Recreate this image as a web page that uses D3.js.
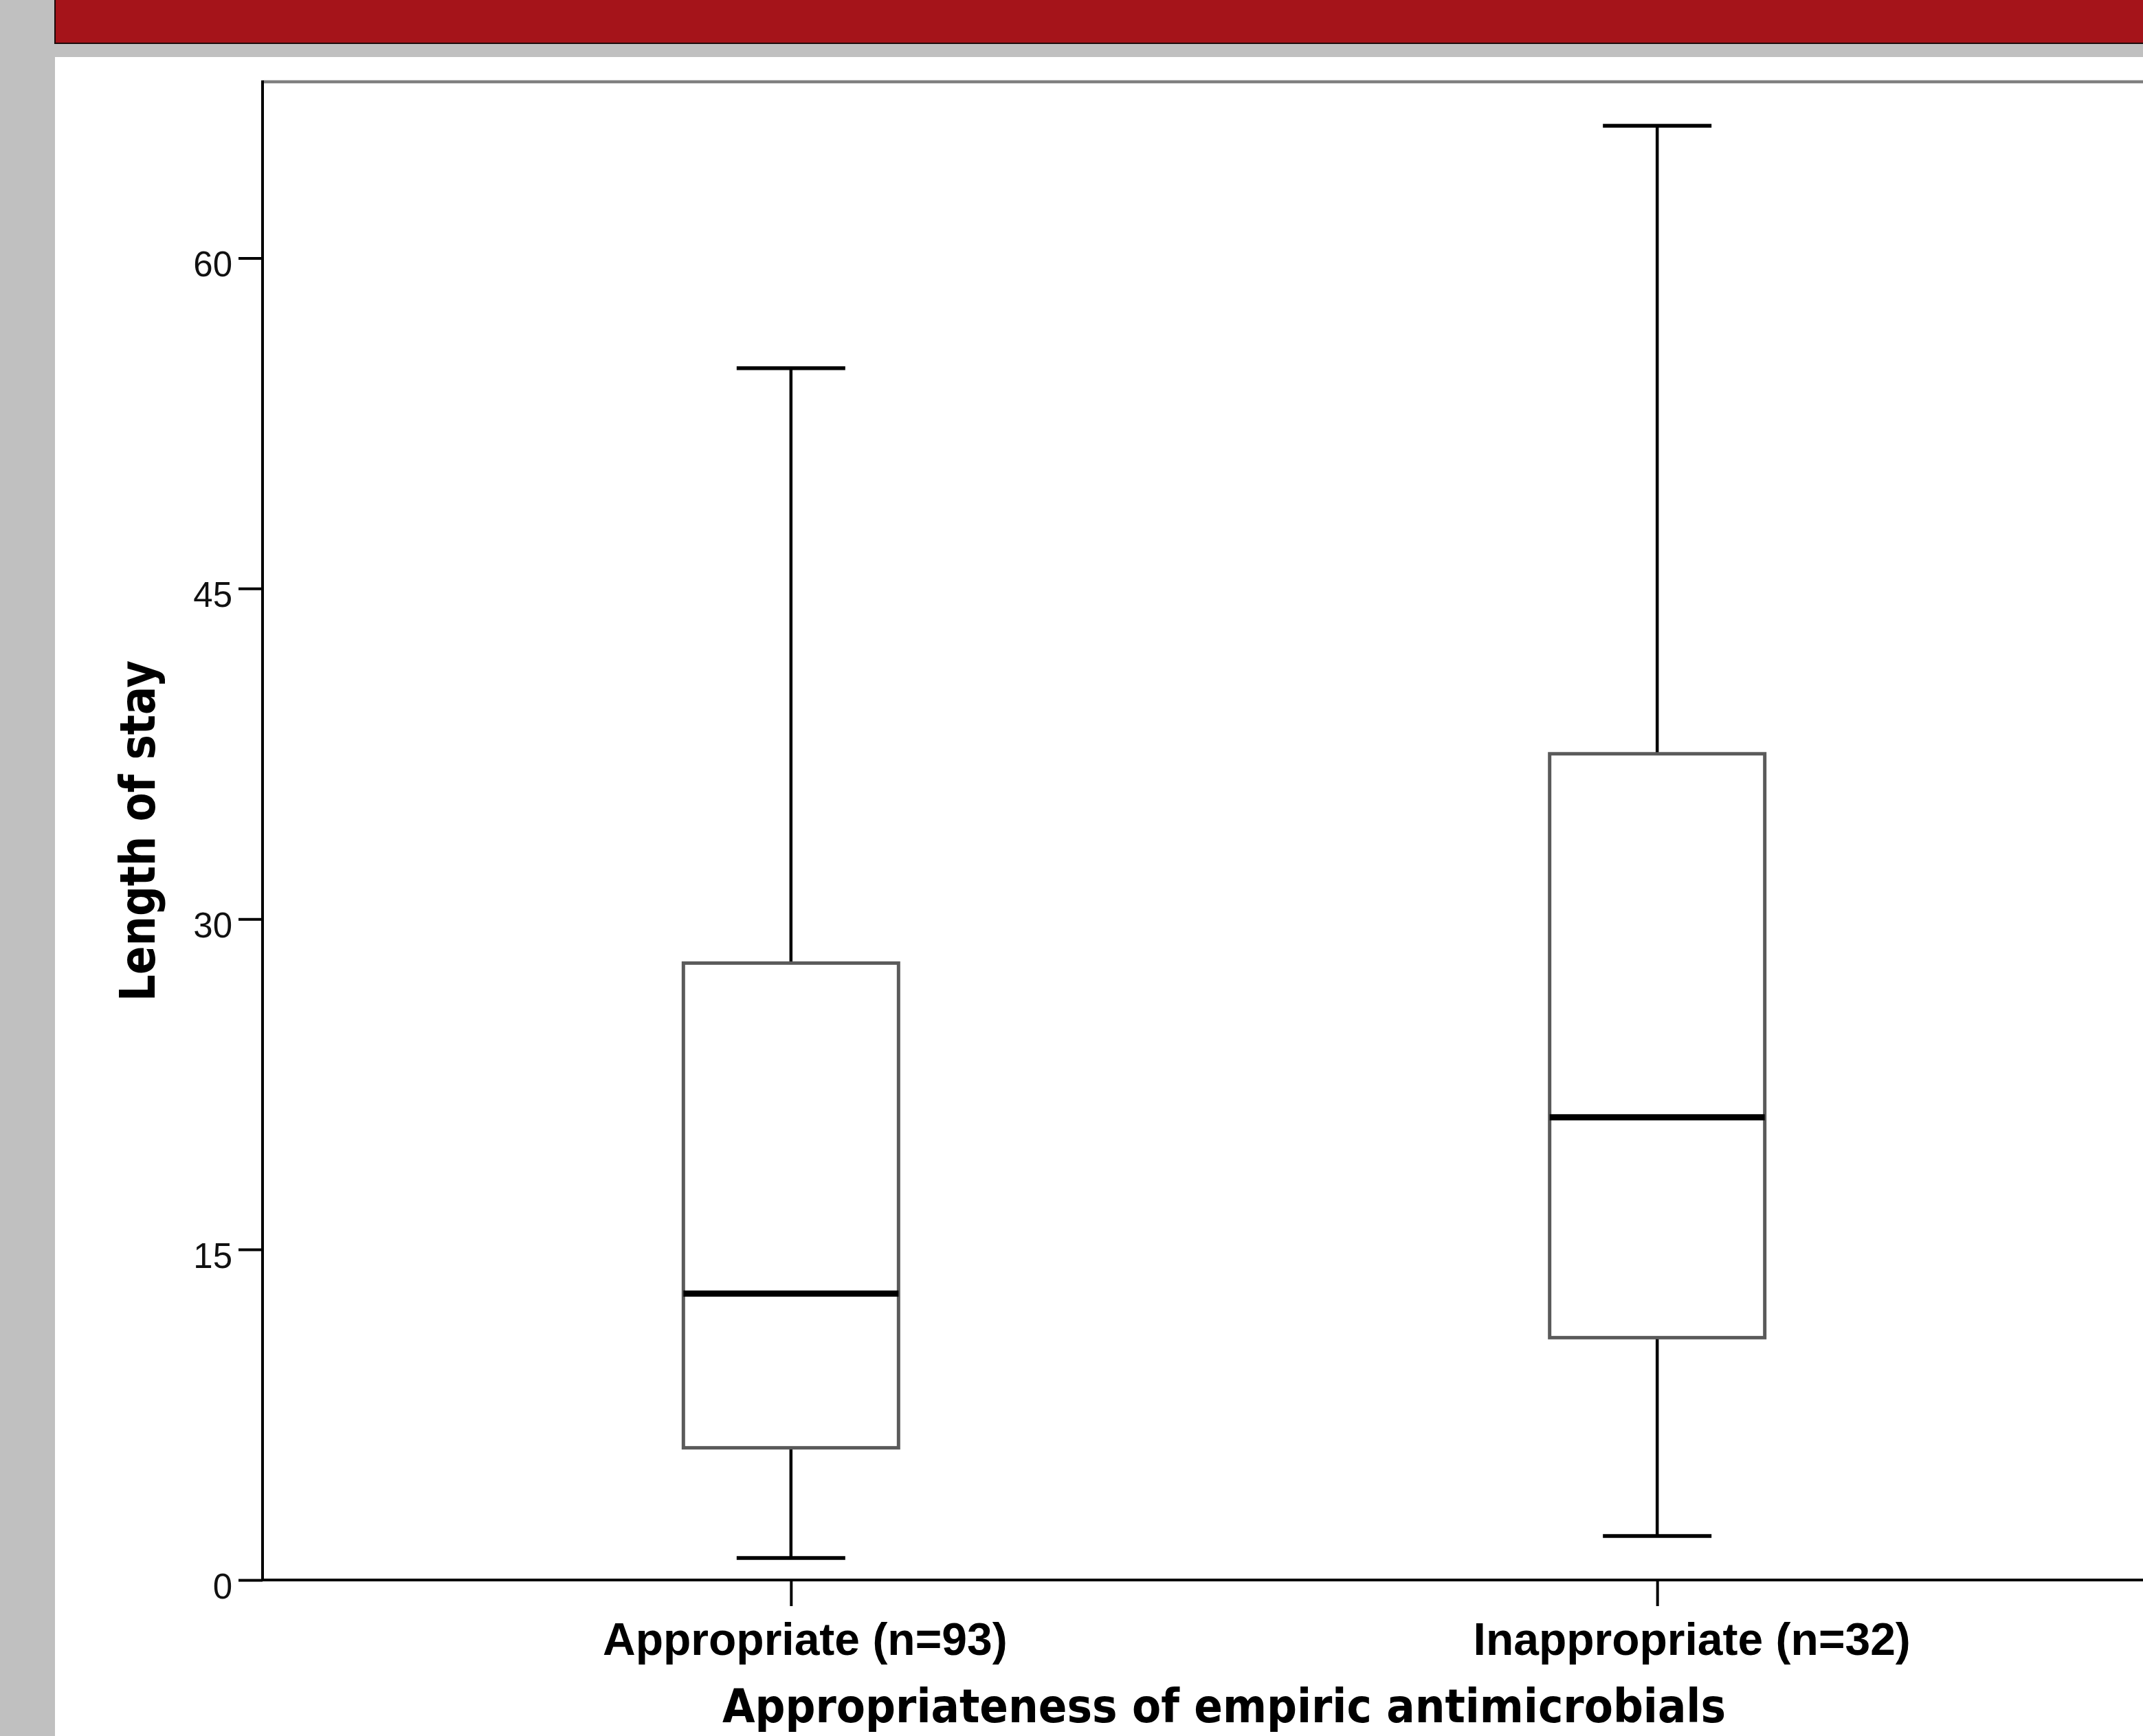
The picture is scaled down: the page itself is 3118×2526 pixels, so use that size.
<!DOCTYPE html>
<html>
<head>
<meta charset="utf-8">
<script src="https://cdn.jsdelivr.net/npm/d3@7"></script>
<style>
  html, body { margin: 0; padding: 0; background: #c0c0c0; }
  svg { display: block; }
</style>
</head>
<body>
<script>
// ---- data ----
const categories = ["Appropriate (n=93)", "Inappropriate (n=32)"];
const whiskerLow  = [1, 2];
const q1Values    = [6, 11];
const medians     = [13, 21];
const q3Values    = [28, 37.5];
const whiskerHigh = [55, 66];
const yTicks      = [0, 15, 30, 45, 60];
const yTitle = "Length of stay";
const xTitle = "Appropriateness of empiric antimicrobials";

// ---- layout ----
const W = 3118, H = 2526;
const plot = { left: 382, top: 119, bottom: 2299, right: 3180 };
const labelShift = [20, 50];

const svg = d3.select("body").append("svg").attr("width", W).attr("height", H);

// background / header
svg.append("rect").attr("x", 0).attr("y", 0).attr("width", W).attr("height", H).attr("fill", "#c0c0c0");
svg.append("rect").attr("x", 80).attr("y", 83).attr("width", W - 80).attr("height", H - 83).attr("fill", "#ffffff");
svg.append("rect").attr("x", 80).attr("y", -5).attr("width", W).attr("height", 68)
  .attr("fill", "#a5141a").attr("stroke", "#1a0a0a").attr("stroke-width", 2);

const y = d3.scaleLinear().domain([0, 68]).range([plot.bottom, plot.top]);
const x = d3.scalePoint().domain(categories).range([plot.left, plot.right]).padding(0.61);

const boxW = 313, capW = 158;

// top frame line (grey)
svg.append("line").attr("x1", plot.left).attr("x2", W).attr("y1", plot.top).attr("y2", plot.top)
  .attr("stroke", "#808080").attr("stroke-width", 4.5);

// y axis
const yAxis = d3.axisLeft(y).tickValues(yTicks).tickSize(35).tickPadding(9).tickSizeOuter(0);
const gy = svg.append("g").attr("transform", `translate(${plot.left},0)`).call(yAxis);
gy.select(".domain").remove();
gy.selectAll(".tick line").attr("stroke", "#000").attr("stroke-width", 4);
gy.selectAll(".tick text").attr("font-family", "'Liberation Sans', Arial, sans-serif")
  .attr("font-size", 51).attr("fill", "#111").attr("dy", 26).attr("dominant-baseline", "auto");
svg.append("line").attr("x1", plot.left).attr("x2", plot.left).attr("y1", plot.top - 2).attr("y2", plot.bottom + 2)
  .attr("stroke", "#000").attr("stroke-width", 4);

// x axis
const xAxis = d3.axisBottom(x).tickSize(38).tickPadding(0).tickSizeOuter(0);
const gx = svg.append("g").attr("transform", `translate(0,${plot.bottom})`).call(xAxis);
gx.select(".domain").remove();
gx.selectAll(".tick line").attr("stroke", "#000").attr("stroke-width", 4);
gx.selectAll(".tick text")
  .attr("font-family", "'Liberation Sans', Arial, sans-serif").attr("font-weight", "bold")
  .attr("font-size", 66).attr("fill", "#000")
  .attr("dy", 0).attr("y", 109)
  .attr("x", (d, i) => labelShift[i]);
svg.append("line").attr("x1", plot.left).attr("x2", W).attr("y1", plot.bottom).attr("y2", plot.bottom)
  .attr("stroke", "#000").attr("stroke-width", 4);

// boxes
const boxes = categories.map((c, i) => ({
  c, lo: whiskerLow[i], q1: q1Values[i], med: medians[i], q3: q3Values[i], hi: whiskerHigh[i]
}));
const g = svg.append("g");
boxes.forEach(b => {
  const cx = x(b.c);
  // whiskers
  g.append("line").attr("x1", cx).attr("x2", cx).attr("y1", y(b.q3)).attr("y2", y(b.hi))
    .attr("stroke", "#000").attr("stroke-width", 4.5);
  g.append("line").attr("x1", cx).attr("x2", cx).attr("y1", y(b.q1)).attr("y2", y(b.lo))
    .attr("stroke", "#000").attr("stroke-width", 4.5);
  // caps
  [b.lo, b.hi].forEach(v => {
    g.append("line").attr("x1", cx - capW / 2).attr("x2", cx + capW / 2).attr("y1", y(v)).attr("y2", y(v))
      .attr("stroke", "#000").attr("stroke-width", 5.5);
  });
  // box
  g.append("rect").attr("x", cx - boxW / 2).attr("y", y(b.q3)).attr("width", boxW)
    .attr("height", y(b.q1) - y(b.q3)).attr("fill", "#fff").attr("stroke", "#5a5a5a").attr("stroke-width", 5);
  // median
  g.append("line").attr("x1", cx - boxW / 2).attr("x2", cx + boxW / 2).attr("y1", y(b.med)).attr("y2", y(b.med))
    .attr("stroke", "#000").attr("stroke-width", 9);
});

// axis titles
svg.append("text").text(xTitle)
  .attr("x", (plot.left + plot.right) / 2).attr("y", 2506)
  .attr("text-anchor", "middle")
  .attr("font-family", "'DejaVu Sans Condensed', 'DejaVu Sans', sans-serif")
  .attr("font-stretch", "condensed").attr("font-weight", "bold").attr("font-size", 68)
  .attr("textLength", 1460).attr("lengthAdjust", "spacingAndGlyphs");

svg.append("text").text(yTitle)
  .attr("transform", `translate(225,${(plot.top + plot.bottom) / 2}) rotate(-90)`)
  .attr("text-anchor", "middle")
  .attr("font-family", "'DejaVu Sans Condensed', 'DejaVu Sans', sans-serif")
  .attr("font-stretch", "condensed").attr("font-weight", "bold").attr("font-size", 72)
  .attr("textLength", 496).attr("lengthAdjust", "spacingAndGlyphs");
</script>
</body>
</html>
